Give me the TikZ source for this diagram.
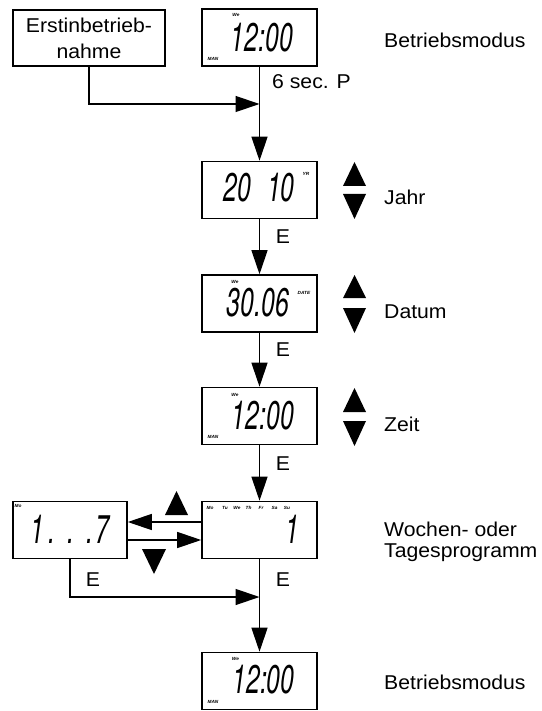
\documentclass[tikz,border=0pt]{standalone}
\usepackage{fontspec}
\usepackage{graphicx}
\setmainfont{Liberation Sans}[FakeStretch=1.06]
\newfontfamily\lcdfont{texgyreheros-italic.otf}[FakeStretch=0.62]
\usetikzlibrary{arrows.meta}
\newcommand{\mainsz}{\fontsize{20}{26}\selectfont}
\newcommand{\tagsz}{\fontsize{4.5}{5}\selectfont\bfseries\itshape}
\newcommand{\lcdsz}{\lcdfont\fontsize{40}{40}\selectfont}
\begin{document}
\begin{tikzpicture}[x=1pt,y=-1pt,
  disp/.style={draw, line width=1.6pt, minimum width=115pt, minimum height=57pt, inner sep=0pt},
  startbox/.style={draw, line width=1.6pt, minimum width=152pt, minimum height=56pt, inner sep=0pt, align=center, font=\mainsz},
  flow/.style={line width=1.3pt, -{Triangle[length=24pt,width=16pt]}},
  lab/.style={font=\mainsz, inner sep=0pt, anchor=base west},
  elab/.style={font=\mainsz, inner sep=0pt, anchor=base},
  tag/.style={font=\tagsz, inner sep=0pt},
  lcd/.style={font=\lcdsz, inner sep=0pt},
  key/.style={fill=black}]
\useasboundingbox (0,0) rectangle (541,711);

% boxes
\node[startbox] (erst) at (89,38) {Erstinbetrieb-\\nahme};
\node[disp] (d1) at (259.5,37.5) {};
\node[disp] (d2) at (259.5,190) {};
\node[disp] (d3) at (259.5,303.5) {};
\node[disp] (d4) at (259.5,416) {};
\node[disp] (d5) at (259.5,530) {};
\node[disp] (d6) at (259.5,681) {};
\node[disp, minimum width=114pt] (d7) at (70,530) {};

% LCD contents
\node[lcd] (l1) at (262,38) {12:00};
\node[lcd] (l2) at (259,188) {20\kern16pt10};
\node[lcd] (l3) at (258,303) {30.06};
\node[lcd] (l4) at (263,416) {12:00};
\node[lcd] (l5) at (292,529) {1};
\node[lcd] (l6) at (263.5,679.5) {12:00};
\node[lcd] (l7) at (70,529) {1\kern4pt.\kern12pt.\kern12pt.\kern2pt7};

% small LCD tags
\node[tag] (w1) at (236,15) {We};
\node[tag] (m1) at (213,59) {MAN};
\node[tag] (yr) at (306,174) {YR};
\node[tag] (w3) at (235,282) {We};
\node[tag] (dt) at (304,293) {DATE};
\node[tag] (w4) at (235,395) {We};
\node[tag] (m4) at (213,437) {MAN};
\node[tag] (w6) at (235.5,659) {We};
\node[tag] (m6) at (213,702) {MAN};
\node[tag] (mo7) at (18,506) {Mo};
\foreach \d/\x [count=\i] in {Mo/210,Tu/225,We/237,Th/248.5,Fr/261,Sa/274.5,Su/287}
  \node[tag] (day\i) at (\x,508) {\d};

% connectors
\coordinate (j1) at (259.5,104);
\coordinate (j2) at (259.5,597);
\draw[flow] (erst.south) |- (j1);
\draw[flow] (d1.south) -- (d2.north);
\draw[flow] (d2.south) -- (d3.north);
\draw[flow] (d3.south) -- (d4.north);
\draw[flow] (d4.south) -- (d5.north);
\draw[flow] (d5.south) -- (d6.north);
\draw[flow] ([yshift=8pt]d5.west) -- ([yshift=8pt]d7.east);
\draw[flow] ([yshift=-10pt]d7.east) -- ([yshift=-10pt]d5.west);
\draw[flow] (d7.south) |- (j2);

% labels
\node[lab] (t1) at (384,48) {Betriebsmodus};
\node[lab] (t0) at (272,89) {6 sec. P};
\node[lab] (t2) at (384,205) {Jahr};
\node[lab] (t3) at (384,318) {Datum};
\node[lab] (t4) at (384,431) {Zeit};
\node[font=\fontsize{20}{20.5}\selectfont, inner sep=0pt, align=left, anchor=north west] (t5) at (384,522) {Wochen- oder\\Tagesprogramm};
\node[lab] (t6) at (384,689) {Betriebsmodus};
\node[elab] (e1) at (283,243.5) {E};
\node[elab] (e2) at (283,356.5) {E};
\node[elab] (e3) at (283,470) {E};
\node[elab] (e4) at (283,586) {E};
\node[elab] (e5) at (93,586) {E};

% up/down keys
\fill[key] (343,186) -- (366,186) -- (354.5,162) -- cycle;
\fill[key] (343,194) -- (366,194) -- (354.5,219) -- cycle;
\fill[key] (343,298) -- (366,298) -- (354.5,275) -- cycle;
\fill[key] (343,308) -- (366,308) -- (354.5,333) -- cycle;
\fill[key] (343,412) -- (366,412) -- (354.5,388) -- cycle;
\fill[key] (343,421) -- (366,421) -- (354.5,446) -- cycle;
\fill[key] (165,515) -- (188,515) -- (176.5,491) -- cycle;
\fill[key] (142,549) -- (166,549) -- (154,574) -- cycle;
\end{tikzpicture}
\end{document}
